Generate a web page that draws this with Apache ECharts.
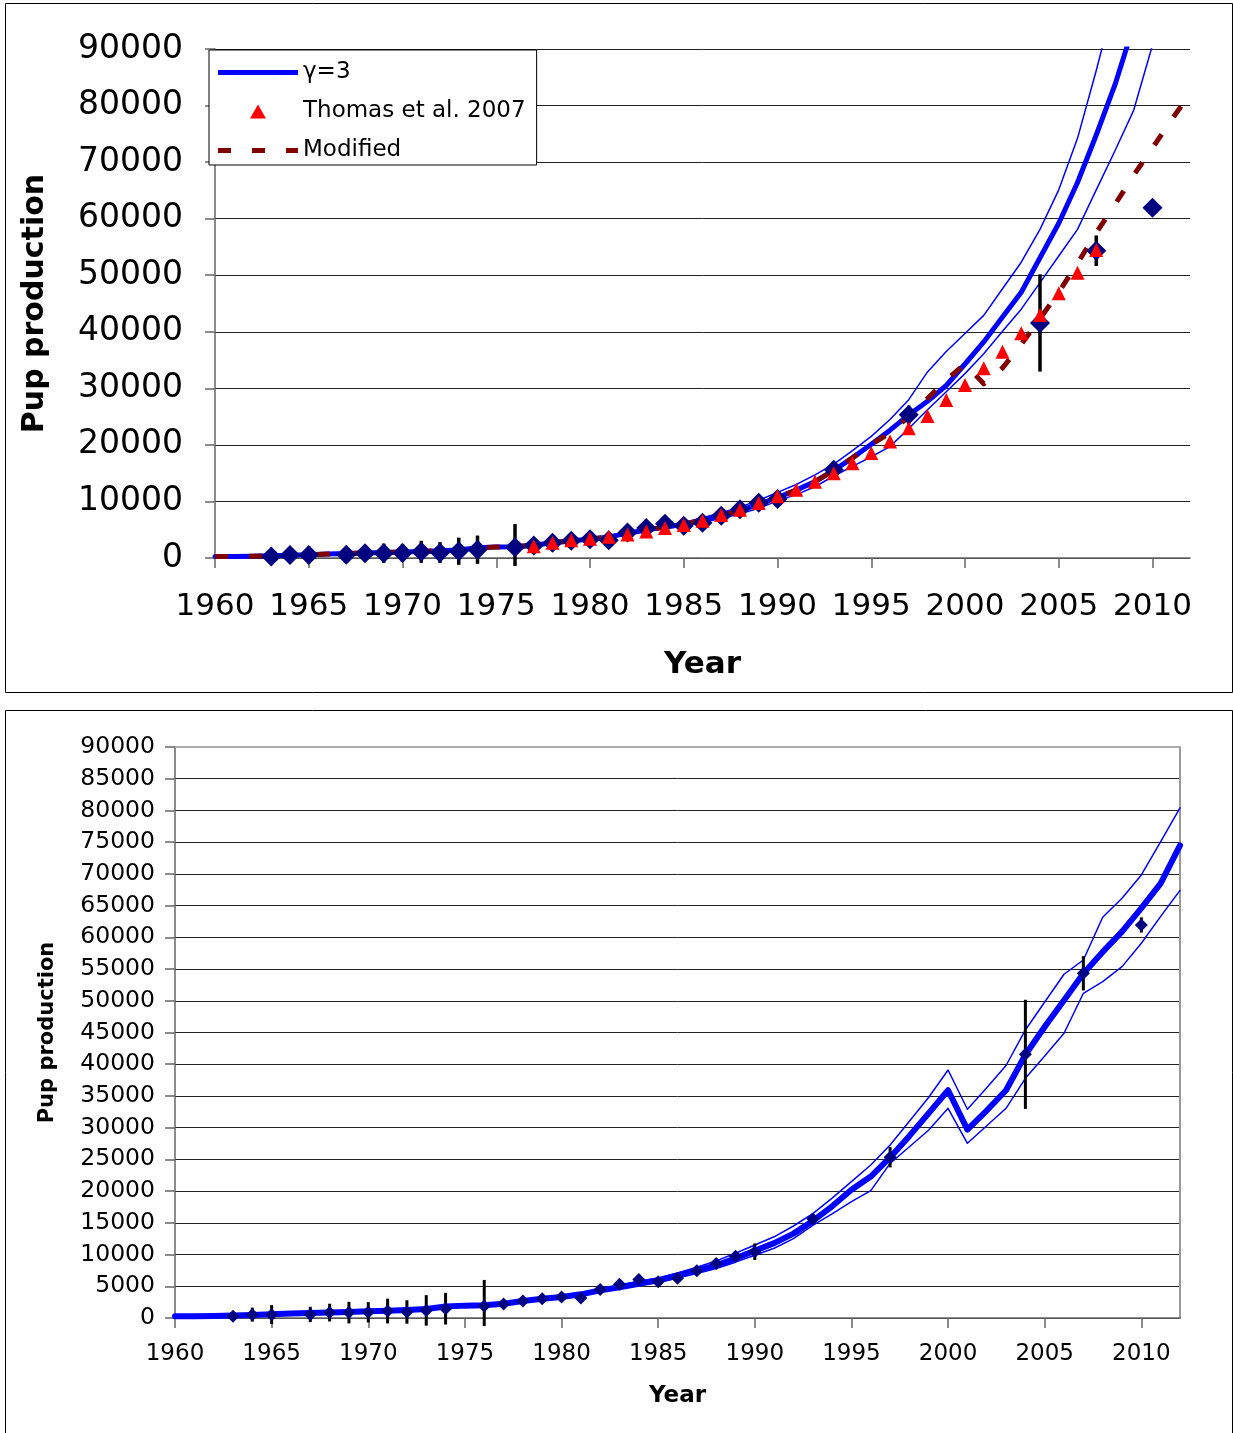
<!DOCTYPE html>
<html>
<head>
<meta charset="utf-8">
<script src="https://cdn.jsdelivr.net/npm/echarts@6/dist/echarts.min.js"></script>
<style>
  html, body { margin: 0; padding: 0; background: #fff; }
  #chart { width: 1233px; height: 1433px; }
</style>
</head>
<body>
<div id="chart"></div>
<script>
// ---- data ---------------------------------------------------------------
const years = [
  1960, 1961, 1962, 1963, 1964, 1965, 1966, 1967, 1968, 1969,
  1970, 1971, 1972, 1973, 1974, 1975, 1976, 1977, 1978, 1979,
  1980, 1981, 1982, 1983, 1984, 1985, 1986, 1987, 1988, 1989,
  1990, 1991, 1992, 1993, 1994, 1995, 1996, 1997, 1998, 1999,
  2000, 2001, 2002, 2003, 2004, 2005, 2006, 2007, 2008, 2009,
  2010, 2011, 2012
];
const yearTicks = [1960, 1965, 1970, 1975, 1980, 1985, 1990, 1995, 2000, 2005, 2010];

// Upper panel: gamma = 3 model with its bounds, and the modified model
const modelTop = [
  270, 280, 300, 380, 480, 580, 700, 790, 880, 960,
  1050, 1150, 1270, 1420, 1800, 1950, 2000, 2260, 2680, 3050,
  3310, 3730, 4360, 4950, 5500, 5940, 6700, 7500, 8400, 9500,
  10700, 12000, 13500, 15500, 17700, 20100, 22600, 25300, 27700, 30500,
  34300, 38200, 42600, 47000, 53100, 59200, 66400, 74800, 83700, 94200,
  105000, 117000, 130000
];
const upperTop = [
  280, 290, 310, 390, 500, 600, 720, 820, 910, 1000,
  1090, 1200, 1320, 1480, 1870, 2030, 2090, 2360, 2800, 3190,
  3470, 3920, 4580, 5200, 5800, 6300, 7100, 8000, 9000, 10200,
  11600, 13000, 14700, 16600, 19000, 21500, 24500, 28000, 32900, 36500,
  39700, 42900, 47600, 52300, 58100, 65100, 74200, 86200, 99000, 112000,
  125000, 140000, 155000
];
const lowerTop = [
  260, 270, 290, 370, 460, 560, 680, 760, 850, 920,
  1010, 1100, 1220, 1360, 1730, 1870, 1910, 2160, 2560, 2910,
  3150, 3540, 4140, 4700, 5200, 5600, 6300, 7000, 7800, 8800,
  10100, 11200, 12600, 14500, 16200, 17900, 19700, 22900, 26200, 29400,
  32600, 36100, 40100, 44000, 48700, 53400, 58100, 65100, 72000, 79200,
  90700, 103000, 116000
];
const modifiedTop = [
  270, 280, 300, 380, 480, 580, 700, 790, 880, 960,
  1050, 1150, 1270, 1420, 1800, 1950, 2000, 2260, 2680, 3050,
  3310, 3730, 4360, 4950, 5500, 5940, 6700, 7500, 8400, 9500,
  10700, 12000, 13500, 15500, 17700, 20100, 22100, 25000, 28200, 31500,
  34300, 30800, 33600, 37800, 42300, 47000, 52100, 57500, 62500, 67700,
  72500, 77400, 82100
];

// Thomas et al. 2007 estimates
const thomasYears = [
  1977, 1978, 1979, 1980, 1981, 1982, 1983, 1984, 1985, 1986,
  1987, 1988, 1989, 1990, 1991, 1992, 1993, 1994, 1995, 1996,
  1997, 1998, 1999, 2000, 2001, 2002, 2003, 2004, 2005, 2006, 2007
];
const thomasValues = [
  2080, 2680, 3140, 3390, 3740, 4150, 4700, 5300, 5830, 6590,
  7600, 8540, 9720, 10900, 12080, 13490, 14980, 16740, 18560, 20600,
  22950, 25100, 27930, 30590, 33540, 36480, 39730, 42960, 46800, 50440, 54460
];

// Survey counts with their error half-widths (0 = no bar)
const obsYears = [
  1963, 1964, 1965, 1967, 1968, 1969, 1970, 1971, 1972, 1973,
  1974, 1976, 1977, 1978, 1979, 1980, 1981, 1982, 1983, 1984,
  1985, 1986, 1987, 1988, 1989, 1990, 1993, 1997, 2004, 2007, 2010
];
const obsValues = [
  270, 530, 530, 560, 850, 850, 900, 1100, 950, 1200,
  1470, 1900, 2200, 2680, 3050, 3310, 3150, 4500, 5300, 6050,
  5700, 6250, 7450, 8600, 9750, 10450, 15600, 25330, 41560, 54330, 61950
];
const obsErr = [
  0, 1100, 1500, 1200, 1400, 1700, 1600, 1950, 1850, 2400,
  2500, 4100, 0, 0, 0, 0, 0, 0, 0, 0,
  0, 0, 0, 0, 0, 1300, 0, 1600, 8600, 2700, 1200
];

// Lower panel: model with bounds
const modelBottom = [
  270, 280, 300, 380, 480, 580, 700, 790, 880, 960,
  1050, 1150, 1270, 1420, 1800, 1950, 2000, 2260, 2680, 3050,
  3310, 3730, 4360, 4850, 5400, 5940, 6700, 7500, 8300, 9400,
  10600, 11800, 13300, 15300, 17600, 20200, 22300, 25300, 28700, 32300,
  35900, 29700, 32700, 35900, 41500, 45900, 50100, 54300, 57700, 60900,
  64600, 68500, 74500
];
const upperBottom = [
  280, 290, 310, 390, 500, 600, 720, 820, 910, 1000,
  1090, 1200, 1320, 1480, 1870, 2030, 2090, 2360, 2800, 3190,
  3470, 3920, 4580, 5200, 5800, 6300, 7100, 8000, 9000, 10200,
  11500, 12800, 14500, 16450, 18900, 21490, 24120, 27270, 31000, 34800,
  39090, 32900, 36300, 39800, 45400, 49800, 54180, 56430, 63160, 66150,
  69830, 75100, 80400
];
const lowerBottom = [
  260, 270, 290, 370, 460, 560, 680, 760, 850, 920,
  1010, 1100, 1220, 1360, 1730, 1870, 1910, 2160, 2560, 2910,
  3150, 3540, 4140, 4700, 5200, 5600, 6300, 7000, 7800, 8800,
  9900, 11000, 12500, 14600, 16400, 18330, 20070, 24380, 27000, 29630,
  33050, 27540, 30300, 33050, 37780, 41300, 44880, 51180, 53010, 55380,
  59060, 63300, 67400
];

// ---- helpers ------------------------------------------------------------
const FONT = 'DejaVu Sans';
const BLUE = '#0000ff';
const NAVY = '#000080';
const RED = '#ff0000';
const DARKRED = '#800000';

const pairs = (xs, ys) => xs.map((x, i) => [x, ys[i]]);
const plain = v => String(v);

function lineSeries(name, gridIdx, values, width, color, z, extra) {
  return Object.assign({
    name, type: 'line', xAxisIndex: gridIdx, yAxisIndex: gridIdx,
    data: pairs(years, values), symbol: 'none', z,
    lineStyle: { width, color, cap: 'round', join: 'round' },
    itemStyle: { color }
  }, extra || {});
}

function errorBars(gridIdx, width) {
  const data = [];
  obsYears.forEach((y, i) => {
    if (obsErr[i] > 0) data.push([y, obsValues[i] - obsErr[i], obsValues[i] + obsErr[i]]);
  });
  return {
    type: 'custom', xAxisIndex: gridIdx, yAxisIndex: gridIdx, z: 4, silent: true, clip: false,
    data,
    renderItem(params, api) {
      const lo = api.coord([api.value(0), api.value(1)]);
      const hi = api.coord([api.value(0), api.value(2)]);
      const floor = params.coordSys.y + params.coordSys.height + 8;
      return {
        type: 'line',
        shape: { x1: lo[0], y1: Math.min(lo[1], floor), x2: hi[0], y2: hi[1] },
        style: { stroke: '#000', lineWidth: width }
      };
    }
  };
}

function obsSeries(gridIdx, size) {
  return {
    name: 'Survey', type: 'scatter', xAxisIndex: gridIdx, yAxisIndex: gridIdx,
    data: pairs(obsYears, obsValues), symbol: 'diamond', symbolSize: size, z: 5,
    itemStyle: { color: NAVY, opacity: 1 }
  };
}

function xAxisCfg(gridIdx, labelSize, margin, nameGap, nameSize) {
  return {
    gridIndex: gridIdx, type: 'value', min: 1960, max: 2012, interval: 5,
    axisLine: { show: true, onZero: false, lineStyle: { color: '#666', width: 1.5 } },
    axisTick: { show: true, customValues: yearTicks, length: 10, lineStyle: { color: '#666', width: 1.5 } },
    axisLabel: { customValues: yearTicks, formatter: plain, fontFamily: FONT, fontSize: labelSize, color: '#000', margin },
    splitLine: { show: false },
    name: 'Year', nameLocation: 'middle', nameGap,
    nameTextStyle: { fontFamily: FONT, fontSize: nameSize, fontWeight: 'bold', color: '#000' }
  };
}

function yAxisCfg(gridIdx, interval, labelSize, margin, nameGap, nameSize) {
  return {
    gridIndex: gridIdx, type: 'value', min: 0, max: 90000, interval,
    axisLine: { show: true, onZero: false, lineStyle: { color: '#666', width: 1.5 } },
    axisTick: { show: true, length: 10, lineStyle: { color: '#666', width: 1.5 } },
    axisLabel: { formatter: plain, fontFamily: FONT, fontSize: labelSize, color: '#000', margin },
    splitLine: { show: true, lineStyle: { color: '#222', width: 1 } },
    name: 'Pup production', nameLocation: 'middle', nameRotate: 90, nameGap,
    nameTextStyle: { fontFamily: FONT, fontSize: nameSize, fontWeight: 'bold', color: '#000' }
  };
}

// ---- chart --------------------------------------------------------------
const chart = echarts.init(document.getElementById('chart'), null, { renderer: 'canvas' });

chart.setOption({
  animation: false,
  backgroundColor: '#fff',
  textStyle: { fontFamily: FONT },
  grid: [
    { left: 215, top: 49, right: 43, bottom: 875 },
    { left: 175, top: 747, right: 53, bottom: 115 }
  ],
  xAxis: [
    xAxisCfg(0, 31, 33, 91, 31),
    xAxisCfg(1, 23, 25, 67, 23),
    {
      gridIndex: 1, type: 'value', position: 'top', min: 1960, max: 2012,
      axisLine: { show: true, onZero: false, lineStyle: { color: '#aaa', width: 2 } },
      axisTick: { show: false }, axisLabel: { show: false }, splitLine: { show: false }
    }
  ],
  yAxis: [
    yAxisCfg(0, 10000, 33, 32, 165, 30),
    yAxisCfg(1, 5000, 23.5, 20, 117, 21),
    {
      gridIndex: 1, type: 'value', position: 'right', min: 0, max: 90000,
      axisLine: { show: true, onZero: false, lineStyle: { color: '#999', width: 2 } },
      axisTick: { show: false }, axisLabel: { show: false }, splitLine: { show: false }
    }
  ],
  legend: {
    left: 209, top: 50, orient: 'vertical', z: 10,
    backgroundColor: '#fff', borderColor: '#000', borderWidth: 1,
    padding: [11, 11, 3, 9],
    itemWidth: 80, itemHeight: 14, itemGap: 16,
    symbolKeepAspect: true,
    selectedMode: false,
    textStyle: { fontFamily: FONT, fontSize: 23, color: '#000' },
    data: [
      { name: 'γ=3', icon: 'path://M0,0h80v5h-80z', itemStyle: { color: BLUE } },
      { name: 'Thomas et al. 2007', icon: 'path://M8,0L16,14H0z', itemStyle: { color: RED } },
      { name: 'Modified', icon: 'path://M0,0h13v5h-13zM34,0h13v5h-13zM68,0h12v5h-12z', itemStyle: { color: DARKRED } }
    ]
  },
  graphic: [
    { type: 'rect', shape: { x: 5.5, y: 3.5, width: 1227, height: 689 },
      style: { fill: 'none', stroke: '#000', lineWidth: 1 } },
    { type: 'rect', shape: { x: 5.5, y: 710.5, width: 1227, height: 740 },
      style: { fill: 'none', stroke: '#000', lineWidth: 1 } }
  ],
  series: [
    // upper panel
    lineSeries('Upper bound', 0, upperTop, 1.5, BLUE, 2),
    lineSeries('Lower bound', 0, lowerTop, 1.5, BLUE, 2),
    lineSeries('γ=3', 0, modelTop, 5, BLUE, 3),
    lineSeries('Modified', 0, modifiedTop, 5, DARKRED, 3,
      { lineStyle: { width: 5, color: DARKRED, type: [13, 21], cap: 'butt', join: 'round' } }),
    errorBars(0, 3.5),
    obsSeries(0, 20),
    {
      name: 'Thomas et al. 2007', type: 'scatter', xAxisIndex: 0, yAxisIndex: 0,
      data: pairs(thomasYears, thomasValues), symbol: 'triangle', symbolSize: 14, z: 6,
      itemStyle: { color: RED, opacity: 1 }
    },
    // lower panel
    lineSeries('Upper', 1, upperBottom, 1.5, BLUE, 2),
    lineSeries('Lower', 1, lowerBottom, 1.5, BLUE, 2),
    lineSeries('Model', 1, modelBottom, 6, BLUE, 3),
    errorBars(1, 3),
    obsSeries(1, [13, 13])
  ]
});
</script>
</body>
</html>
